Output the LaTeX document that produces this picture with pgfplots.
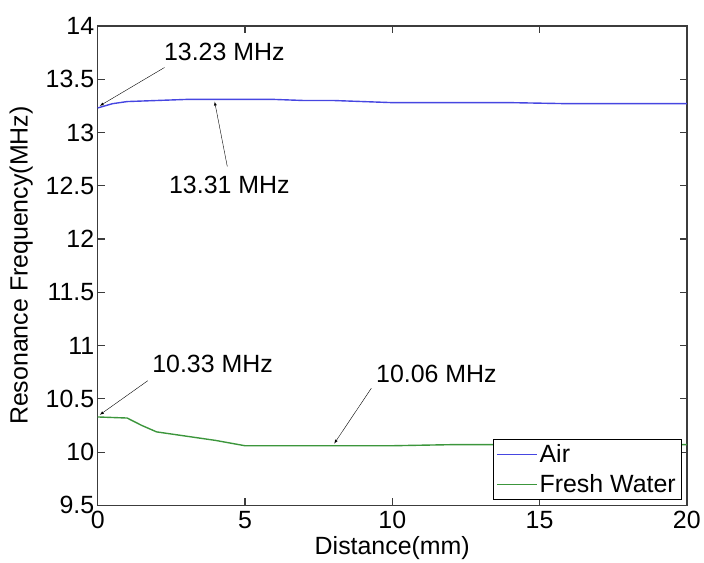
\documentclass[border=0pt]{standalone}
\usepackage{fontspec}
\setmainfont{Liberation Sans}
\usepackage{pgfplots}
\pgfplotsset{compat=1.18}

\definecolor{airblue}{RGB}{70,70,225}
\definecolor{watergreen}{RGB}{60,150,60}
\definecolor{axgray}{RGB}{60,60,60}

\newcommand{\bigfont}{\fontsize{25bp}{30bp}\selectfont}

\begin{document}
\begin{tikzpicture}
\begin{axis}[
    width=591bp, height=481bp,
    scale only axis,
    xmin=0, xmax=20,
    ymin=9.5, ymax=14,
    xtick={0,5,10,15,20},
    ytick={9.5,10,10.5,11,11.5,12,12.5,13,13.5,14},
    yticklabels={9.5,10,10.5,11,11.5,12,12.5,13,13.5,14},
    tick align=inside,
    major tick length=7bp,
    axis line style={axgray, line width=1.6bp},
    every tick/.style={axgray, line width=1.2bp},
    /pgf/number format/assume math mode=true,
    tick label style={font=\bigfont, text=black},
    xticklabel style={yshift=-2bp},
    label style={font=\bigfont},
    xlabel={Distance(mm)},
    ylabel={Resonance Frequency(MHz)},
    xlabel style={yshift=-1bp},
    ylabel style={yshift=6bp},
    legend style={font=\bigfont, at={(0.99,0.012)}, anchor=south east,
        inner sep=3bp, row sep=7bp, cells={anchor=west}},
    legend image code/.code={
        \draw[#1, line width=1.4bp] (0bp,0bp) -- (40bp,0bp);
    },
    clip=false,
]

\addplot[airblue, line width=1.4bp] coordinates {
    (0,13.23) (0.5,13.27) (1,13.29) (2,13.30) (3,13.31) (4,13.31)
    (5,13.31) (6,13.31) (7,13.30) (8,13.30) (9,13.29) (10,13.28)
    (12,13.28) (14,13.28) (16,13.27) (18,13.27) (20,13.27)
};
\addlegendentry{Air}

\addplot[watergreen, line width=1.4bp] coordinates {
    (0,10.33) (1,10.32) (1.5,10.25) (2,10.19) (3,10.15) (4,10.11)
    (5,10.06) (6,10.06) (8,10.06) (10,10.06) (12,10.07) (14,10.07)
    (16,10.07) (18,10.07) (20,10.07)
};
\addlegendentry{Fresh Water}

% annotations
\node[font=\bigfont] at (axis cs:4.3,13.76) {13.23 MHz};
\draw[-latex, thin] (axis cs:2.27,13.61) -- (axis cs:0.07,13.25);
\node[font=\bigfont] at (axis cs:4.47,12.51) {13.31 MHz};
\draw[-latex, thin] (axis cs:4.4,12.68) -- (axis cs:3.97,13.29);
\node[font=\bigfont] at (axis cs:3.9,10.83) {10.33 MHz};
\draw[-latex, thin] (axis cs:1.7,10.67) -- (axis cs:0.07,10.35);
\node[font=\bigfont] at (axis cs:11.5,10.73) {10.06 MHz};
\draw[-latex, thin] (axis cs:9.29,10.6) -- (axis cs:8.03,10.08);

\end{axis}
\path[use as bounding box] (-98bp,-56bp) rectangle (606bp,507bp);
\end{tikzpicture}
\end{document}
